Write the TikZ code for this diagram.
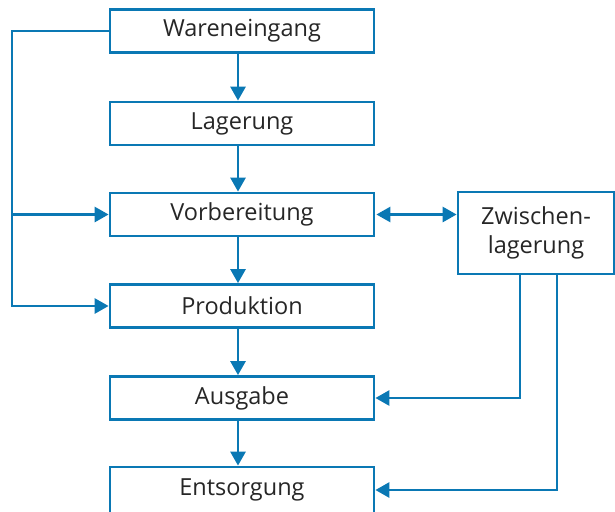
\documentclass[tikz,border=0pt]{standalone}
\usepackage{fontspec}
\setmainfont{Open Sans}
\usetikzlibrary{arrows.meta,calc}
\definecolor{bl}{HTML}{0A78B4}
\begin{document}
\begin{tikzpicture}[x=1pt,y=-1pt,
  tip/.tip={Triangle[length=14pt,width=15pt]},
  box/.style={draw=bl,line width=2.8pt,minimum width=264pt,minimum height=43pt,inner sep=0pt,font=\fontsize{23.5}{29}\selectfont,text=black!85},
  con/.style={draw=bl,line width=2.8pt,-tip},
  dcon/.style={draw=bl,line width=2.8pt,tip-tip}]
\useasboundingbox (0,0) rectangle (615,511);
\node[box] (we) at (242,31) {Wareneingang};
\node[box] (la) at (242,123.5) {Lagerung};
\node[box] (vo) at (242,214.5) {Vorbereitung};
\node[box] (pr) at (242,306) {Produktion};
\node[box] (au) at (242,398) {Ausgabe};
\node[box,minimum height=46pt] (en) at (242,490) {Entsorgung};
\node[box,minimum width=156pt,minimum height=82pt,align=center] (zw) at (536,233) {Zwischen-\\lagerung};
\coordinate (L) at (12,0);
\draw[con] ([xshift=-4pt]we.south) -- ([xshift=-4pt]la.north);
\draw[con] ([xshift=-4pt]la.south) -- ([xshift=-4pt]vo.north);
\draw[con] ([xshift=-4pt]vo.south) -- ([xshift=-4pt]pr.north);
\draw[con] ([xshift=-4pt]pr.south) -- ([xshift=-4pt]au.north);
\draw[con] ([xshift=-4pt]au.south) -- ([xshift=-4pt]en.north);
\draw[con] (we.west) -| (L |- pr.west) -- (pr.west);
\draw[con] (L |- vo.west) -- (vo.west);
\draw[dcon] ([xshift=1pt]vo.east) -- (vo.east -| zw.west);
\draw[con] ([xshift=-16pt]zw.south) |- (au.east);
\draw[con] ([xshift=21pt]zw.south) |- (en.east);
\end{tikzpicture}
\end{document}
